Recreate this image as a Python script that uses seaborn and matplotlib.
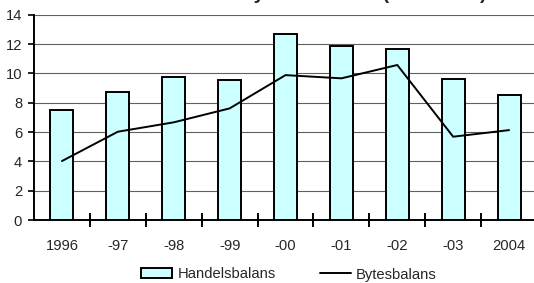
import matplotlib
matplotlib.use("Agg")
import matplotlib.pyplot as plt
import seaborn as sns
import pandas as pd
from matplotlib.patches import Patch
from matplotlib.lines import Line2D

years = ["1996", "-97", "-98", "-99", "-00", "-01", "-02", "-03", "2004"]
handelsbalans = [7.5, 8.7, 9.73, 9.54, 12.65, 11.88, 11.63, 9.61, 8.52]
bytesbalans = [4.02, 6.02, 6.66, 7.61, 9.88, 9.66, 10.57, 5.68, 6.13]
yticks = [0, 2, 4, 6, 8, 10, 12, 14]

sns.set_theme(style="white")
plt.rcParams['font.family'] = ['Liberation Sans', 'DejaVu Sans']

FS = 10.6
df = pd.DataFrame({"year": years, "handels": handelsbalans, "bytes": bytesbalans, "pos": range(len(years))})

fig = plt.figure(figsize=(5.34, 2.83), dpi=100)
ax = fig.add_axes([34/534, 63/283, 503/534, (220-14.7)/283])

sns.barplot(data=df, x="year", y="handels", ax=ax, color="#CCFFFF", edgecolor="black",
            linewidth=1.4, width=0.41, saturation=1, zorder=3)
sns.lineplot(data=df, x="pos", y="bytes", ax=ax, color="black", linewidth=1.4, zorder=4)

ax.set_ylim(0, 14)
ax.set_xlim(-0.5, len(years) - 0.5)
ax.set_yticks(yticks)
ax.set_yticklabels([str(t) for t in yticks], fontsize=FS)
ax.set_xticks(range(len(years)))
ax.set_xticklabels(years, fontsize=FS)
ax.set_xlabel("")
ax.set_ylabel("")
ax.yaxis.grid(True, color="#606060", linewidth=0.8, zorder=0)
ax.set_axisbelow(True)
for s in ["top", "right"]:
    ax.spines[s].set_visible(False)
for s in ["left", "bottom"]:
    ax.spines[s].set_color("black")
    ax.spines[s].set_linewidth(1.4)
ax.tick_params(axis="y", which="major", direction="out", length=4, width=1.2, color="black", pad=4.5, left=True)
ax.tick_params(axis="x", which="major", length=0, pad=14)
# category-boundary ticks
ax.set_xticks([i - 0.5 for i in range(1, len(years))], minor=True)
ax.tick_params(axis="x", which="minor", direction="inout", length=10, width=1.4, color="black", bottom=True)

handles = [Patch(facecolor="#CCFFFF", edgecolor="black", linewidth=1.4),
           Line2D([0], [0], color="black", linewidth=1.4)]
fig.legend(handles, ["Handelsbalans", "Bytesbalans"], loc="center", bbox_to_anchor=(289/534, 1 - 274.5/283),
           ncol=2, frameon=False, fontsize=FS, handlelength=2.1, handleheight=0.68,
           handletextpad=0.34, columnspacing=3.0, borderpad=0, borderaxespad=0)

# title sits above the image edge in the reference: only its descenders show
fig.text(486/534, 1.0 + 1.3/283, "Handels- och bytesbalansen (% av BNP)", ha="right", va="baseline",
         fontsize=14, fontweight="bold")

fig.savefig("out.png", dpi=100)
